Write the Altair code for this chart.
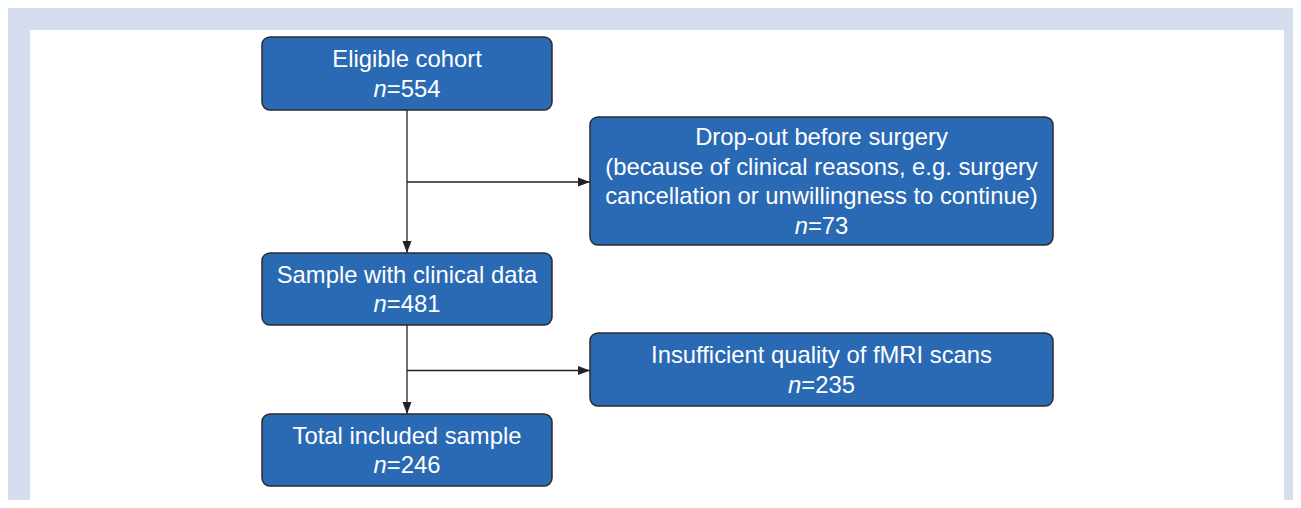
import altair as alt
import pandas as pd

# ---- content ----
box_titles = [
    ["Eligible cohort"],
    ["Drop-out before surgery",
     "(because of clinical reasons, e.g. surgery",
     "cancellation or unwillingness to continue)"],
    ["Sample with clinical data"],
    ["Insufficient quality of fMRI scans"],
    ["Total included sample"],
]
box_n = [554, 73, 481, 235, 246]

# ---- layout (page pixel coordinates) ----
box_left = [262, 590, 262, 590, 262]
box_right = [552, 1053, 552, 1053, 552]
box_top = [37, 117, 253, 333, 414]
box_bottom = [110, 245, 325, 406, 486]
trunk_x = 407

FS = 23.8
LINE = 29.5
FONT = "Liberation Sans"
BOX_FILL = "#2a6ab4"
BOX_STROKE = "#2b2b2b"
BG = "#d5ddef"
INK = "#222222"

W, H = 1285, 492
X0, Y0 = 8, 8
xs = alt.Scale(domain=[X0, X0 + W], nice=False, zero=False)
ys = alt.Scale(domain=[Y0, Y0 + H], nice=False, zero=False, reverse=True)

# boxes
boxes = pd.DataFrame({"x": box_left, "x2": box_right, "y": box_top, "y2": box_bottom})

# text lines
lines, nsym, nval = [], [], []
char_w = {"=": 0.584, "n": 0.556}
for i, (titles, n) in enumerate(zip(box_titles, box_n)):
    cx = (box_left[i] + box_right[i]) / 2
    cy = (box_top[i] + box_bottom[i]) / 2
    k = len(titles) + 1
    for j, t in enumerate(titles):
        y = cy + (j - (k - 1) / 2) * LINE + 0.358 * FS
        lines.append({"x": cx, "y": y, "t": t})
    y = cy + ((k - 1) - (k - 1) / 2) * LINE + 0.358 * FS
    rest = "=" + str(n)
    w_rest = char_w["="] + 0.556 * len(str(n))
    w_n = char_w["n"]
    split = cx - (w_n + w_rest) / 2 * FS + w_n * FS
    nsym.append({"x": split, "y": y, "t": "n"})
    nval.append({"x": split, "y": y, "t": rest})

# connectors
segs, heads_down, heads_right = [], [], []
for i in (0, 2):
    segs.append({"x": trunk_x, "y": box_bottom[i], "x2": trunk_x, "y2": box_top[i + 2]})
    heads_down.append({"x": trunk_x, "y": box_top[i + 2]})
    by = (box_top[i + 1] + box_bottom[i + 1]) / 2 + 1
    segs.append({"x": trunk_x, "y": by, "x2": box_left[i + 1], "y2": by})
    heads_right.append({"x": box_left[i + 1], "y": by})

panel = alt.Chart(pd.DataFrame({"x": [30], "x2": [1284], "y": [30], "y2": [Y0 + H]})).mark_rect(
    color="white"
).encode(
    x=alt.X("x:Q", scale=xs, axis=None), x2="x2:Q",
    y=alt.Y("y:Q", scale=ys, axis=None), y2="y2:Q",
)

seg_layer = alt.Chart(pd.DataFrame(segs)).mark_rule(color=INK, strokeWidth=1.3).encode(
    x=alt.X("x:Q", scale=xs, axis=None), x2="x2:Q",
    y=alt.Y("y:Q", scale=ys, axis=None), y2="y2:Q",
)

down = alt.Chart(pd.DataFrame(heads_down)).mark_point(
    shape="M0,0L-0.75,-2L0.75,-2Z", size=144, filled=True, color=INK, opacity=1, strokeWidth=0
).encode(x=alt.X("x:Q", scale=xs, axis=None), y=alt.Y("y:Q", scale=ys, axis=None))

right = alt.Chart(pd.DataFrame(heads_right)).mark_point(
    shape="M0,0L-2,-0.75L-2,0.75Z", size=144, filled=True, color=INK, opacity=1, strokeWidth=0
).encode(x=alt.X("x:Q", scale=xs, axis=None), y=alt.Y("y:Q", scale=ys, axis=None))

box_layer = alt.Chart(boxes).mark_rect(
    fill=BOX_FILL, stroke=BOX_STROKE, strokeWidth=1.5, cornerRadius=8
).encode(
    x=alt.X("x:Q", scale=xs, axis=None), x2="x2:Q",
    y=alt.Y("y:Q", scale=ys, axis=None), y2="y2:Q",
)

def txt(df, align, style="normal"):
    return alt.Chart(pd.DataFrame(df)).mark_text(
        font=FONT, fontSize=FS, color="white", align=align, baseline="alphabetic", fontStyle=style
    ).encode(
        x=alt.X("x:Q", scale=xs, axis=None),
        y=alt.Y("y:Q", scale=ys, axis=None),
        text="t:N",
    )

chart = alt.layer(
    panel, seg_layer, down, right, box_layer,
    txt(lines, "center"), txt(nsym, "right", "italic"), txt(nval, "left"),
).properties(
    width=W, height=H, background=BG, padding=0,
    autosize=alt.AutoSizeParams(type="none"),
).configure_view(stroke=None)

chart.save("out.html", embed_options={"renderer": "svg", "actions": False})
